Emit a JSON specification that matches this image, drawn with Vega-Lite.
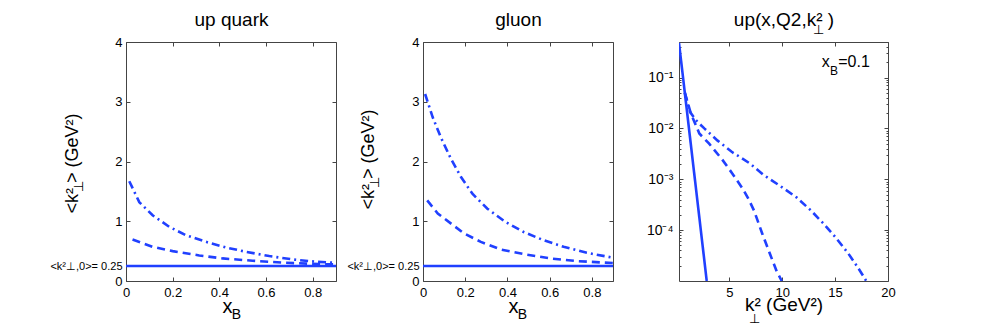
{
  "$schema": "https://vega.github.io/schema/vega-lite/v6.json",
  "autosize": {"type": "pad"},
  "padding": {"left": 49, "top": 9, "right": 5, "bottom": 5},
  "background": "white",
  "config": {
    "font": "Liberation Sans",
    "view": {"stroke": "#444", "strokeWidth": 1},
    "axis": {"domain": false, "grid": false, "labelColor": "#000", "titleColor": "#000", "tickColor": "#444", "labelFontSize": 13, "titleFontWeight": "normal", "labelFont": "Liberation Sans", "titleFont": "Liberation Sans", "labelFlush": false}
  },
  "datasets": {
    "uq": [
      {"x": 0, "y": 0.25, "s": "solid"}, {"x": 0.9, "y": 0.25, "s": "solid"},
      {"x": 0.028, "y": 0.694, "s": "dashed"}, {"x": 0.114, "y": 0.572, "s": "dashed"}, {"x": 0.2, "y": 0.5, "s": "dashed"}, {"x": 0.314, "y": 0.428, "s": "dashed"}, {"x": 0.414, "y": 0.378, "s": "dashed"}, {"x": 0.543, "y": 0.339, "s": "dashed"}, {"x": 0.686, "y": 0.305, "s": "dashed"}, {"x": 0.829, "y": 0.283, "s": "dashed"}, {"x": 0.9, "y": 0.278, "s": "dashed"},
      {"x": 0.014, "y": 1.67, "s": "dashdot"}, {"x": 0.057, "y": 1.32, "s": "dashdot"}, {"x": 0.114, "y": 1.1, "s": "dashdot"}, {"x": 0.186, "y": 0.905, "s": "dashdot"}, {"x": 0.257, "y": 0.767, "s": "dashdot"}, {"x": 0.343, "y": 0.655, "s": "dashdot"}, {"x": 0.429, "y": 0.561, "s": "dashdot"}, {"x": 0.514, "y": 0.489, "s": "dashdot"}, {"x": 0.614, "y": 0.417, "s": "dashdot"}, {"x": 0.714, "y": 0.361, "s": "dashdot"}, {"x": 0.814, "y": 0.322, "s": "dashdot"}, {"x": 0.9, "y": 0.305, "s": "dashdot"}
    ],
    "gl": [
      {"x": 0, "y": 0.25, "s": "solid"}, {"x": 0.9, "y": 0.25, "s": "solid"},
      {"x": 0.02, "y": 1.35, "s": "dashed"}, {"x": 0.07, "y": 1.13, "s": "dashed"}, {"x": 0.133, "y": 0.96, "s": "dashed"}, {"x": 0.195, "y": 0.795, "s": "dashed"}, {"x": 0.274, "y": 0.655, "s": "dashed"}, {"x": 0.368, "y": 0.528, "s": "dashed"}, {"x": 0.477, "y": 0.45, "s": "dashed"}, {"x": 0.603, "y": 0.378, "s": "dashed"}, {"x": 0.73, "y": 0.333, "s": "dashed"}, {"x": 0.9, "y": 0.3, "s": "dashed"},
      {"x": 0.01, "y": 3.13, "s": "dashdot"}, {"x": 0.046, "y": 2.74, "s": "dashdot"}, {"x": 0.085, "y": 2.4, "s": "dashdot"}, {"x": 0.133, "y": 2.04, "s": "dashdot"}, {"x": 0.18, "y": 1.74, "s": "dashdot"}, {"x": 0.234, "y": 1.46, "s": "dashdot"}, {"x": 0.305, "y": 1.21, "s": "dashdot"}, {"x": 0.39, "y": 0.99, "s": "dashdot"}, {"x": 0.477, "y": 0.82, "s": "dashdot"}, {"x": 0.571, "y": 0.683, "s": "dashdot"}, {"x": 0.666, "y": 0.572, "s": "dashdot"}, {"x": 0.776, "y": 0.472, "s": "dashdot"}, {"x": 0.9, "y": 0.39, "s": "dashdot"}
    ],
    "kt": [
      {"x": 0.25, "y": 0.48, "s": "solid"}, {"x": 1, "y": 0.022, "s": "solid"}, {"x": 2, "y": 0.00036, "s": "solid"}, {"x": 2.87, "y": 0.00001, "s": "solid"},
      {"x": 0.8, "y": 0.05, "s": "dashed"}, {"x": 1.38, "y": 0.0195, "s": "dashed"}, {"x": 2.17, "y": 0.00794, "s": "dashed"}, {"x": 3.1, "y": 0.00501, "s": "dashed"}, {"x": 4.29, "y": 0.00251, "s": "dashed"}, {"x": 5.3, "y": 0.00129, "s": "dashed"}, {"x": 6.25, "y": 0.000661, "s": "dashed"}, {"x": 6.8, "y": 0.000417, "s": "dashed"}, {"x": 7.35, "y": 0.00024, "s": "dashed"}, {"x": 8.12, "y": 0.000085, "s": "dashed"}, {"x": 8.85, "y": 0.0000339, "s": "dashed"}, {"x": 9.48, "y": 0.0000155, "s": "dashed"}, {"x": 9.96, "y": 0.00001, "s": "dashed"},
      {"x": 0.8, "y": 0.05, "s": "dashdot"}, {"x": 1.3, "y": 0.0209, "s": "dashdot"}, {"x": 1.86, "y": 0.01445, "s": "dashdot"}, {"x": 2.64, "y": 0.01, "s": "dashdot"}, {"x": 3.9, "y": 0.00575, "s": "dashdot"}, {"x": 5.23, "y": 0.00347, "s": "dashdot"}, {"x": 6.96, "y": 0.00204, "s": "dashdot"}, {"x": 8.22, "y": 0.00123, "s": "dashdot"}, {"x": 9.8, "y": 0.000741, "s": "dashdot"}, {"x": 11.38, "y": 0.000437, "s": "dashdot"}, {"x": 12.7, "y": 0.000245, "s": "dashdot"}, {"x": 13.9, "y": 0.000135, "s": "dashdot"}, {"x": 15.0, "y": 0.0000741, "s": "dashdot"}, {"x": 16.25, "y": 0.0000347, "s": "dashdot"}, {"x": 17.2, "y": 0.0000178, "s": "dashdot"}, {"x": 17.95, "y": 0.00001, "s": "dashdot"}
    ]
  },
  "bounds": "flush",
  "spacing": 87,
  "hconcat": [
    {
      "width": 210, "height": 239,
      "data": {"name": "uq"},
      "layer": [
        {
          "mark": {"type": "line", "color": "#2040ff", "strokeWidth": 2.6, "clip": true},
          "encoding": {
            "x": {"field": "x", "type": "quantitative", "scale": {"domain": [0, 0.9], "nice": false, "zero": false},
              "axis": {"orient": "bottom", "values": [0, 0.2, 0.4, 0.6, 0.8], "format": ".1~f", "tickSize": -4, "labelPadding": 9, "title": "x", "titleX": 101, "titleY": 31, "titleAlign": "center", "titleBaseline": "alphabetic", "titleAngle": 0, "titleFontSize": 20}},
            "y": {"field": "y", "type": "quantitative", "scale": {"domain": [0, 4], "nice": false},
              "axis": {"orient": "left", "values": [0, 0.25, 1, 2, 3, 4], "format": "~g", "labelExpr": "datum.value == 0.25 ? '<k²⊥,0>= 0.25' : datum.label", "labelFontSize": {"condition": {"test": "datum.value == 0.25", "value": 11}, "value": 13}, "tickOpacity": {"condition": {"test": "datum.value == 0.25", "value": 0}, "value": 1}, "labelOverlap": false, "tickSize": -4, "labelPadding": 8, "title": "<k² > (GeV²)", "titleX": -49, "titleY": 121, "titleAngle": -90, "titleAlign": "center", "titleBaseline": "alphabetic", "titleFontSize": 18}},
            "strokeDash": {"field": "s", "type": "nominal", "scale": {"domain": ["solid", "dashed", "dashdot"], "range": [[1, 0], [8, 5], [8, 4, 2, 4]]}, "legend": null}
          }
        },
        {
          "mark": {"type": "point", "opacity": 0},
          "encoding": {
            "x": {"field": "x", "type": "quantitative", "axis": {"orient": "top", "values": [0, 0.2, 0.4, 0.6, 0.8], "labels": false, "tickSize": -4, "title": "up quark", "titleX": 105, "titleY": -17, "titleAlign": "center", "titleBaseline": "alphabetic", "titleAngle": 0, "titleFontSize": 19}},
            "y": {"field": "y", "type": "quantitative", "axis": {"orient": "right", "values": [0, 1, 2, 3, 4], "labels": false, "tickSize": -4, "title": null}}
          }
        },
        {
          "mark": {"type": "point", "opacity": 0},
          "encoding": {
            "x": {"field": "x", "type": "quantitative", "axis": {"orient": "bottom", "ticks": false, "labels": false, "title": "B", "titleX": 110, "titleY": 37, "titleAlign": "center", "titleBaseline": "alphabetic", "titleAngle": 0, "titleFontSize": 14}},
            "y": {"field": "y", "type": "quantitative", "axis": {"orient": "left", "ticks": false, "labels": false, "title": "⊥", "titleX": -43.5, "titleY": 144, "titleAngle": -90, "titleAlign": "center", "titleBaseline": "alphabetic", "titleFontSize": 13}}
          }
        }
      ],
      "resolve": {"axis": {"x": "independent", "y": "independent"}}
    },
    {
      "bounds": "flush",
      "spacing": 66,
      "hconcat": [
        {
          "width": 190, "height": 239,
          "data": {"name": "gl"},
          "layer": [
            {
              "mark": {"type": "line", "color": "#2040ff", "strokeWidth": 2.6, "clip": true},
              "encoding": {
                "x": {"field": "x", "type": "quantitative", "scale": {"domain": [0, 0.9], "nice": false, "zero": false},
                  "axis": {"orient": "bottom", "values": [0, 0.2, 0.4, 0.6, 0.8], "format": ".1~f", "tickSize": -4, "labelPadding": 9, "title": "x", "titleX": 90, "titleY": 31, "titleAlign": "center", "titleBaseline": "alphabetic", "titleAngle": 0, "titleFontSize": 20}},
                "y": {"field": "y", "type": "quantitative", "scale": {"domain": [0, 4], "nice": false},
                  "axis": {"orient": "left", "values": [0, 0.25, 1, 2, 3, 4], "format": "~g", "labelExpr": "datum.value == 0.25 ? '<k²⊥,0>= 0.25' : datum.label", "labelFontSize": {"condition": {"test": "datum.value == 0.25", "value": 11}, "value": 13}, "tickOpacity": {"condition": {"test": "datum.value == 0.25", "value": 0}, "value": 1}, "labelOverlap": false, "tickSize": -4, "labelPadding": 8, "title": "<k² > (GeV²)", "titleX": -50, "titleY": 117, "titleAngle": -90, "titleAlign": "center", "titleBaseline": "alphabetic", "titleFontSize": 18}},
                "strokeDash": {"field": "s", "type": "nominal", "scale": {"domain": ["solid", "dashed", "dashdot"], "range": [[1, 0], [8, 5], [8, 4, 2, 4]]}, "legend": null}
              }
            },
            {
              "mark": {"type": "point", "opacity": 0},
              "encoding": {
                "x": {"field": "x", "type": "quantitative", "axis": {"orient": "top", "values": [0, 0.2, 0.4, 0.6, 0.8], "labels": false, "tickSize": -4, "title": "gluon", "titleX": 95, "titleY": -17, "titleAlign": "center", "titleBaseline": "alphabetic", "titleAngle": 0, "titleFontSize": 19}},
                "y": {"field": "y", "type": "quantitative", "axis": {"orient": "right", "values": [0, 1, 2, 3, 4], "labels": false, "tickSize": -4, "title": null}}
              }
            },
            {
              "mark": {"type": "point", "opacity": 0},
              "encoding": {
                "x": {"field": "x", "type": "quantitative", "axis": {"orient": "bottom", "ticks": false, "labels": false, "title": "B", "titleX": 99, "titleY": 37, "titleAlign": "center", "titleBaseline": "alphabetic", "titleAngle": 0, "titleFontSize": 14}},
                "y": {"field": "y", "type": "quantitative", "axis": {"orient": "left", "ticks": false, "labels": false, "title": "⊥", "titleX": -44.5, "titleY": 140, "titleAngle": -90, "titleAlign": "center", "titleBaseline": "alphabetic", "titleFontSize": 13}}
              }
            }
          ],
          "resolve": {"axis": {"x": "independent", "y": "independent"}}
        },
        {
          "width": 209, "height": 239,
          "data": {"name": "kt"},
          "layer": [
            {
              "mark": {"type": "line", "color": "#2040ff", "strokeWidth": 2.6, "clip": true},
              "encoding": {
                "x": {"field": "x", "type": "quantitative", "scale": {"domain": [0.25, 20], "nice": false, "zero": false},
                  "axis": {"orient": "bottom", "values": [5, 10, 15, 20], "format": "d", "tickSize": -4, "labelPadding": 9, "title": "k²  (GeV²)", "titleX": 104.5, "titleY": 29, "titleAlign": "center", "titleBaseline": "alphabetic", "titleAngle": 0, "titleFontSize": 19}},
                "y": {"field": "y", "type": "quantitative", "scale": {"type": "log", "domain": [0.00001, 0.5], "nice": false},
                  "axis": {"orient": "left", "values": [0.00002, 0.00003, 0.00004, 0.00005, 0.00006, 0.00007, 0.00008, 0.00009, 0.0001, 0.0002, 0.0003, 0.0004, 0.0005, 0.0006, 0.0007, 0.0008, 0.0009, 0.001, 0.002, 0.003, 0.004, 0.005, 0.006, 0.007, 0.008, 0.009, 0.01, 0.02, 0.03, 0.04, 0.05, 0.06, 0.07, 0.08, 0.09, 0.1, 0.2, 0.3, 0.4, 0.5],
                    "labelExpr": "datum.value == 0.1 ? '10⁻¹' : datum.value == 0.01 ? '10⁻²' : datum.value == 0.001 ? '10⁻³' : datum.value == 0.0001 ? '10⁻⁴' : ''",
                    "tickSize": {"condition": {"test": "datum.value == 0.1 || datum.value == 0.01 || datum.value == 0.001 || datum.value == 0.0001", "value": -4}, "value": -2},
                    "labelOverlap": false, "labelPadding": 10, "labelFontSize": 14, "title": null}},
                "strokeDash": {"field": "s", "type": "nominal", "scale": {"domain": ["solid", "dashed", "dashdot"], "range": [[1, 0], [8, 5], [8, 4, 2, 4]]}, "legend": null}
              }
            },
            {
              "mark": {"type": "point", "opacity": 0},
              "encoding": {
                "x": {"field": "x", "type": "quantitative", "axis": {"orient": "top", "values": [5, 10, 15, 20], "labels": false, "tickSize": -4, "title": "up(x,Q2,k²  )", "titleX": 104.5, "titleY": -17, "titleAlign": "center", "titleBaseline": "alphabetic", "titleAngle": 0, "titleFontSize": 19}},
                "y": {"field": "y", "type": "quantitative", "axis": {"orient": "right", "values": [0.00002, 0.00003, 0.00004, 0.00005, 0.00006, 0.00007, 0.00008, 0.00009, 0.0001, 0.0002, 0.0003, 0.0004, 0.0005, 0.0006, 0.0007, 0.0008, 0.0009, 0.001, 0.002, 0.003, 0.004, 0.005, 0.006, 0.007, 0.008, 0.009, 0.01, 0.02, 0.03, 0.04, 0.05, 0.06, 0.07, 0.08, 0.09, 0.1, 0.2, 0.3, 0.4, 0.5], "labels": false,
                  "tickSize": {"condition": {"test": "datum.value == 0.1 || datum.value == 0.01 || datum.value == 0.001 || datum.value == 0.0001", "value": -4}, "value": -2}, "title": null}}
              }
            },
            {
              "mark": {"type": "point", "opacity": 0},
              "encoding": {
                "x": {"field": "x", "type": "quantitative", "axis": {"orient": "bottom", "ticks": false, "labels": false, "title": "⊥", "titleX": 75, "titleY": 41, "titleAlign": "center", "titleBaseline": "alphabetic", "titleAngle": 0, "titleFontSize": 13}},
                "y": {"field": "y", "type": "quantitative", "axis": null}
              }
            },
            {
              "mark": {"type": "point", "opacity": 0},
              "encoding": {
                "x": {"field": "x", "type": "quantitative", "axis": {"orient": "top", "ticks": false, "labels": false, "title": "⊥", "titleX": 139, "titleY": -9, "titleAlign": "center", "titleBaseline": "alphabetic", "titleAngle": 0, "titleFontSize": 13}},
                "y": {"field": "y", "type": "quantitative", "axis": null}
              }
            },
            {
              "data": {"values": [{}]},
              "mark": {"type": "text", "align": "left", "baseline": "alphabetic", "fontSize": 16, "font": "Liberation Sans", "color": "#000"},
              "encoding": {
                "x": {"datum": 13.74, "type": "quantitative", "axis": null},
                "y": {"datum": 0.162, "type": "quantitative", "axis": null},
                "text": {"value": "x"}
              }
            },
            {
              "data": {"values": [{}]},
              "mark": {"type": "text", "align": "left", "baseline": "alphabetic", "fontSize": 12, "font": "Liberation Sans", "color": "#000", "dx": 8.3, "dy": 8},
              "encoding": {
                "x": {"datum": 13.74, "type": "quantitative", "axis": null},
                "y": {"datum": 0.162, "type": "quantitative", "axis": null},
                "text": {"value": "B"}
              }
            },
            {
              "data": {"values": [{}]},
              "mark": {"type": "text", "align": "left", "baseline": "alphabetic", "fontSize": 16, "font": "Liberation Sans", "color": "#000", "dx": 16.5},
              "encoding": {
                "x": {"datum": 13.74, "type": "quantitative", "axis": null},
                "y": {"datum": 0.162, "type": "quantitative", "axis": null},
                "text": {"value": "=0.1"}
              }
            }
          ],
          "resolve": {"axis": {"x": "independent", "y": "independent"}}
        }
      ]
    }
  ]
}
